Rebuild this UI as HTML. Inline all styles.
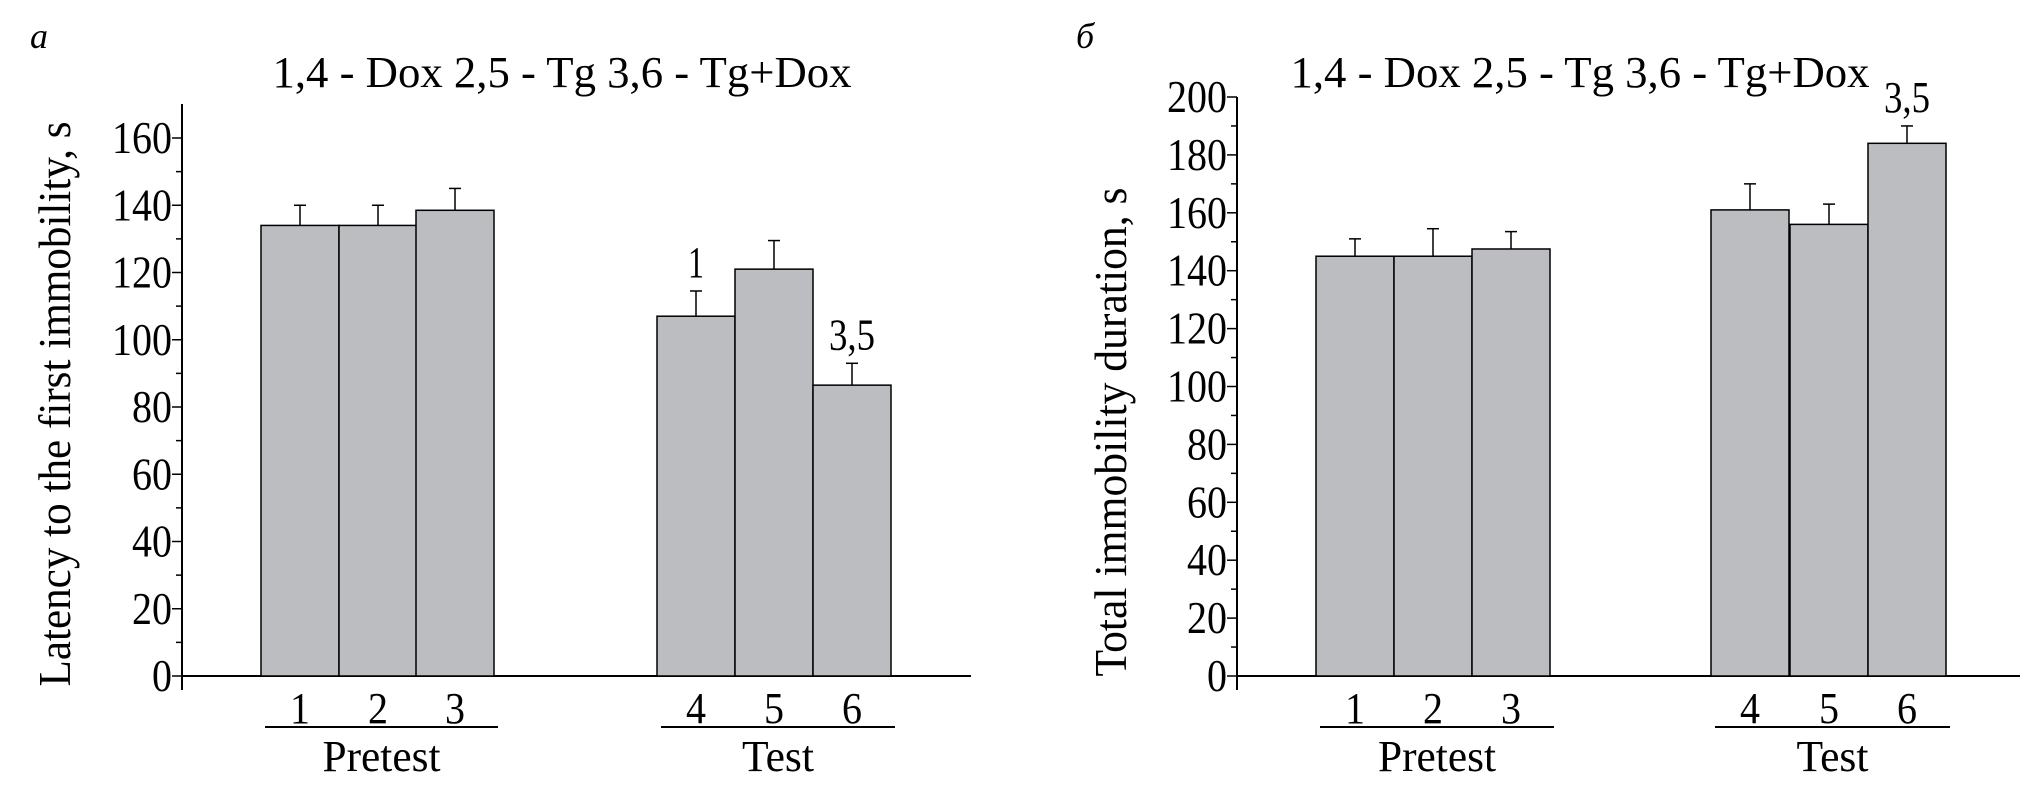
<!DOCTYPE html>
<html><head><meta charset="utf-8"><style>
body{margin:0;background:#fff;}
svg{display:block;font-family:"Liberation Serif",serif;}
</style></head><body>
<svg id="c" width="2037" height="791" viewBox="0 0 2037 791"></svg>
<script>
const categories=["1","2","3","4","5","6"];
const latencyMeans=[134,134,138.5,107,121,86.5];
const latencyErr=[6,6,6.5,7.5,8.5,6.5];
const durationMeans=[145,145,147.5,161,156,184];
const durationErr=[6,9.5,6,9,7,6];
const latencyTicks=[0,20,40,60,80,100,120,140,160];
const durationTicks=[0,20,40,60,80,100,120,140,160,180,200];
const latencyNotes=[null,null,null,"1",null,"3,5"];
const durationNotes=[null,null,null,null,null,"3,5"];
const groups=["Pretest","Test"];
const NS="http://www.w3.org/2000/svg";
const svg=document.getElementById('c');
function el(t,a,p,txt){const e=document.createElementNS(NS,t);for(const k in a)e.setAttribute(k,a[k]);if(txt!==undefined)e.textContent=txt;(p||svg).appendChild(e);return e;}
function panel(o){
  const g=el('g',{});
  
  
  const y=v=>o.y0-(v/o.step)*o.px;
  const tMax=o.ticks[o.ticks.length-1];
  const ax=el('line',{x1:o.ax,x2:o.ax,y1:o.axTop,y2:o.y0+14,stroke:'#000','stroke-width':2},g);
  
  const xa=el('line',{x1:o.ax,x2:o.xEnd,y1:o.y0,y2:o.y0,stroke:'#000','stroke-width':2},g);
  
  for(let v=0;v<=tMax;v+=o.step/2){
    const major=o.ticks.includes(v);
    el('line',{x1:o.ax-(major?10:6),x2:o.ax,y1:y(v),y2:y(v),stroke:'#000','stroke-width':1.5},g);
  }
  o.ticks.forEach(v=>{
    const t=el('text',{x:o.ax-10,y:y(v)+15,'text-anchor':'end','font-size':46,textLength:v>=100?60:(v>0?40:20),lengthAdjust:'spacingAndGlyphs'},g,String(v));
    
  });
  o.means.forEach((m,i)=>{
    const x=o.barX[i];
    const top=y(m+o.err[i]);
    const e=el('line',{x1:x+o.bw/2,x2:x+o.bw/2,y1:y(m),y2:top,stroke:'#000','stroke-width':1.5},g);
    
    el('line',{x1:x+o.bw/2-6,x2:x+o.bw/2+6,y1:top,y2:top,stroke:'#000','stroke-width':1.5},g);
    const r=el('rect',{x:x,y:y(m),width:o.bw,height:o.y0-y(m),fill:'#bcbdc0',stroke:'#000','stroke-width':1.5},g);
    
    const c=el('text',{x:x+o.bw/2,y:723,'text-anchor':'middle','font-size':44,textLength:20,lengthAdjust:'spacingAndGlyphs'},g,categories[i]);
    
    if(o.notes[i]){
      const n=el('text',{x:x+o.bw/2,y:top-14,'text-anchor':'middle','font-size':44,textLength:o.notes[i].length>1?46:16,lengthAdjust:'spacingAndGlyphs'},g,o.notes[i]);
      
    }
  });
  [[0,3],[3,6]].forEach((r,k)=>{
    const x1=o.barX[r[0]]+4,x2=o.barX[r[1]-1]+o.bw+4;
    el('line',{x1:x1,x2:x2,y1:727,y2:727,stroke:'#000','stroke-width':2},g);
    const t=el('text',{x:(x1+x2)/2,y:771,'text-anchor':'middle','font-size':44,textLength:k?72:118,lengthAdjust:'spacingAndGlyphs'},g,groups[k]);
    
  });
  const tt=el('text',{x:o.titleX,y:87,'text-anchor':'middle','font-size':44,textLength:579,lengthAdjust:'spacingAndGlyphs'},g,'1,4 - Dox  2,5 - Tg  3,6 - Tg+Dox');
  
  tt.setAttribute('xml:space','preserve');
  const pl=el('text',{x:o.letterX,y:48,'font-size':36,'font-style':'italic'},g,o.letter);
  
  const yl=el('text',{x:0,y:0,'text-anchor':'middle','font-size':46,textLength:o.ylLen,lengthAdjust:'spacingAndGlyphs',transform:`translate(${o.ylX},${o.ylY}) rotate(-90)`},g,o.ylabel);
  
}
panel({name:'latency-chart',ax:182,axTop:104,y0:676,xEnd:971,step:20,px:67.25,ticks:latencyTicks,means:latencyMeans,err:latencyErr,notes:latencyNotes,
  barX:[261,339,416,657,735,813],bw:78,titleX:562,letter:'a',letterX:30,ylX:70,ylY:404,ylLen:565,ylabel:'Latency to the first immobility, s'});
panel({name:'duration-chart',ax:1237,axTop:97,y0:676,xEnd:2020,step:20,px:57.9,ticks:durationTicks,means:durationMeans,err:durationErr,notes:durationNotes,
  barX:[1316,1394,1472,1711,1790,1868],bw:78,titleX:1580,letter:'б',letterX:1076,ylX:1126,ylY:432,ylLen:489,ylabel:'Total immobility duration, s'});
</script>
</body></html>
